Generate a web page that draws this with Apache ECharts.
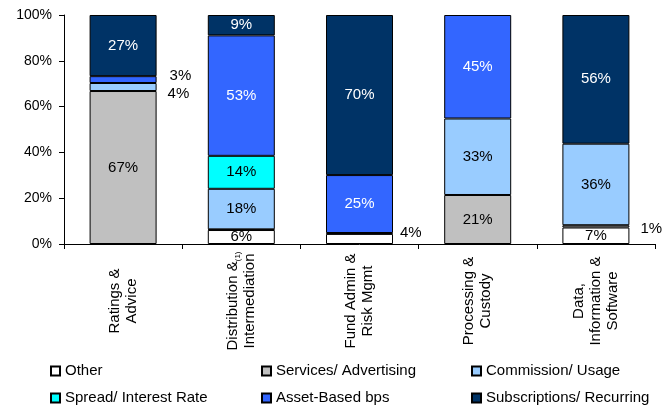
<!DOCTYPE html>
<html>
<head>
<meta charset="utf-8">
<script src="https://cdn.jsdelivr.net/npm/echarts@6/dist/echarts.min.js"></script>
<style>
  html, body { margin: 0; padding: 0; background: #fff; }
  #chart { width: 671px; height: 408px; }
</style>
</head>
<body>
<div id="chart"></div>
<script>
// Revenue mix by business line (% of revenue)
const categories = [
  'Ratings &\nAdvice',
  'Distribution &(1)\nIntermediation',
  'Fund Admin &\nRisk Mgmt',
  'Processing &\nCustody',
  'Data,\nInformation &\nSoftware'
];
const other         = [null, 6.1, 4.4, null, 7.2];
const services      = [66.8, 0.3, 0.4, 21.4, 1.0];
const commission    = [3.5, 17.7, null, 33.4, 35.6];
const spread        = [null, 14.4, null, null, null];
const assetBased    = [3.0, 52.6, 25.3, 45.2, null];
const subscriptions = [26.7, 8.9, 69.9, null, 56.2];
const yTicks = [0, 20, 40, 60, 80, 100];

const seriesDefs = [
  { name: 'Other', data: other, color: '#FFFFFF', text: '#000' },
  { name: 'Services/ Advertising', data: services, color: '#C0C0C0', text: '#000' },
  { name: 'Commission/ Usage', data: commission, color: '#99CCFF', text: '#000' },
  { name: 'Spread/ Interest Rate', data: spread, color: '#00FFFF', text: '#000' },
  { name: 'Asset-Based bps', data: assetBased, color: '#3366FF', text: '#fff' },
  { name: 'Subscriptions/ Recurring', data: subscriptions, color: '#003366', text: '#fff' }
];

// Small segments whose value label sits beside the bar: [series, category index, offset]
const sideLabels = [
  ['Asset-Based bps', 0, [8, -4]],
  ['Commission/ Usage', 0, [6, 7]],
  ['Other', 2, [2, -6]],
  ['Services/ Advertising', 4, [6, 2]]
];

// Legend grid: three columns, two rows
const legendSlots = [
  ['Other', 50, 363],
  ['Services/ Advertising', 261, 363],
  ['Commission/ Usage', 471, 363],
  ['Spread/ Interest Rate', 50, 390],
  ['Asset-Based bps', 261, 390],
  ['Subscriptions/ Recurring', 471, 390]
];

const FONT = '"Liberation Sans", Arial, Helvetica, sans-serif';
const CAT_SIZE = 15;
const SUP_SIZE = 8;
const CAT_LINE = 17;

const series = seriesDefs.map(def => ({
  name: def.name,
  type: 'bar',
  stack: 'total',
  barWidth: 67,
  itemStyle: { color: def.color, borderColor: '#000', borderWidth: 1 },
  label: {
    show: true,
    position: 'inside',
    color: def.text,
    fontFamily: FONT,
    fontSize: 15,
    formatter: p => Math.round(p.value) + '%'
  },
  data: def.data.map((v, i) => {
    const side = sideLabels.find(s => s[0] === def.name && s[1] === i);
    if (side) {
      return { value: v, label: { show: true, position: 'right', offset: side[2], color: '#000', distance: 5 } };
    }
    if (v == null || v < 1) {
      return { value: v, label: { show: false } };
    }
    return { value: v };
  })
}));

const legends = legendSlots.map(([name, left, top]) => ({
  left: left,
  top: top,
  data: [name],
  itemWidth: 9,
  itemHeight: 9,
  icon: 'rect',
  selectedMode: false,
  padding: 0,
  textStyle: { fontFamily: FONT, fontSize: 15, color: '#000', lineHeight: 16 }
}));

// Category names are centred line by line; a "(1)" footnote marker is set small.
function categoryLabel(v) {
  return v.split('\n').map(l => l.indexOf('(1)') >= 0
    ? '{c|' + l.replace('(1)', '') + '}{s|(1)}'
    : '{c|' + l + '}').join('\n');
}

const chart = echarts.init(document.getElementById('chart'), null, { renderer: 'canvas' });
chart.setOption({
  animation: false,
  backgroundColor: '#fff',
  grid: { left: 64, right: 16, top: 15, bottom: 164, containLabel: false, outerBoundsMode: 'none' },
  legend: legends,
  xAxis: {
    type: 'category',
    data: categories,
    boundaryGap: true,
    axisLine: { lineStyle: { color: '#000', width: 1 } },
    axisTick: { show: true, length: 5, lineStyle: { color: '#000' } },
    axisLabel: {
      interval: 0,
      rotate: 90,
      align: 'center',
      verticalAlign: 'middle',
      margin: 57,
      color: '#000',
      fontFamily: FONT,
      fontSize: CAT_SIZE,
      lineHeight: CAT_LINE,
      formatter: categoryLabel,
      rich: {
        c: { align: 'center', fontSize: CAT_SIZE, fontFamily: FONT, color: '#000', lineHeight: CAT_LINE },
        s: { align: 'center', fontSize: SUP_SIZE, fontFamily: FONT, color: '#000', verticalAlign: 'bottom', lineHeight: CAT_LINE }
      }
    }
  },
  yAxis: {
    type: 'value',
    min: yTicks[0],
    max: yTicks[yTicks.length - 1],
    interval: yTicks[1] - yTicks[0],
    axisLine: { show: true, lineStyle: { color: '#000', width: 1 } },
    axisTick: { show: true, length: 5, lineStyle: { color: '#000' } },
    splitLine: { show: false },
    axisLabel: {
      margin: 12,
      color: '#000',
      fontFamily: FONT,
      fontSize: 14,
      formatter: '{value}%'
    }
  },
  series: series
});
</script>
</body>
</html>
